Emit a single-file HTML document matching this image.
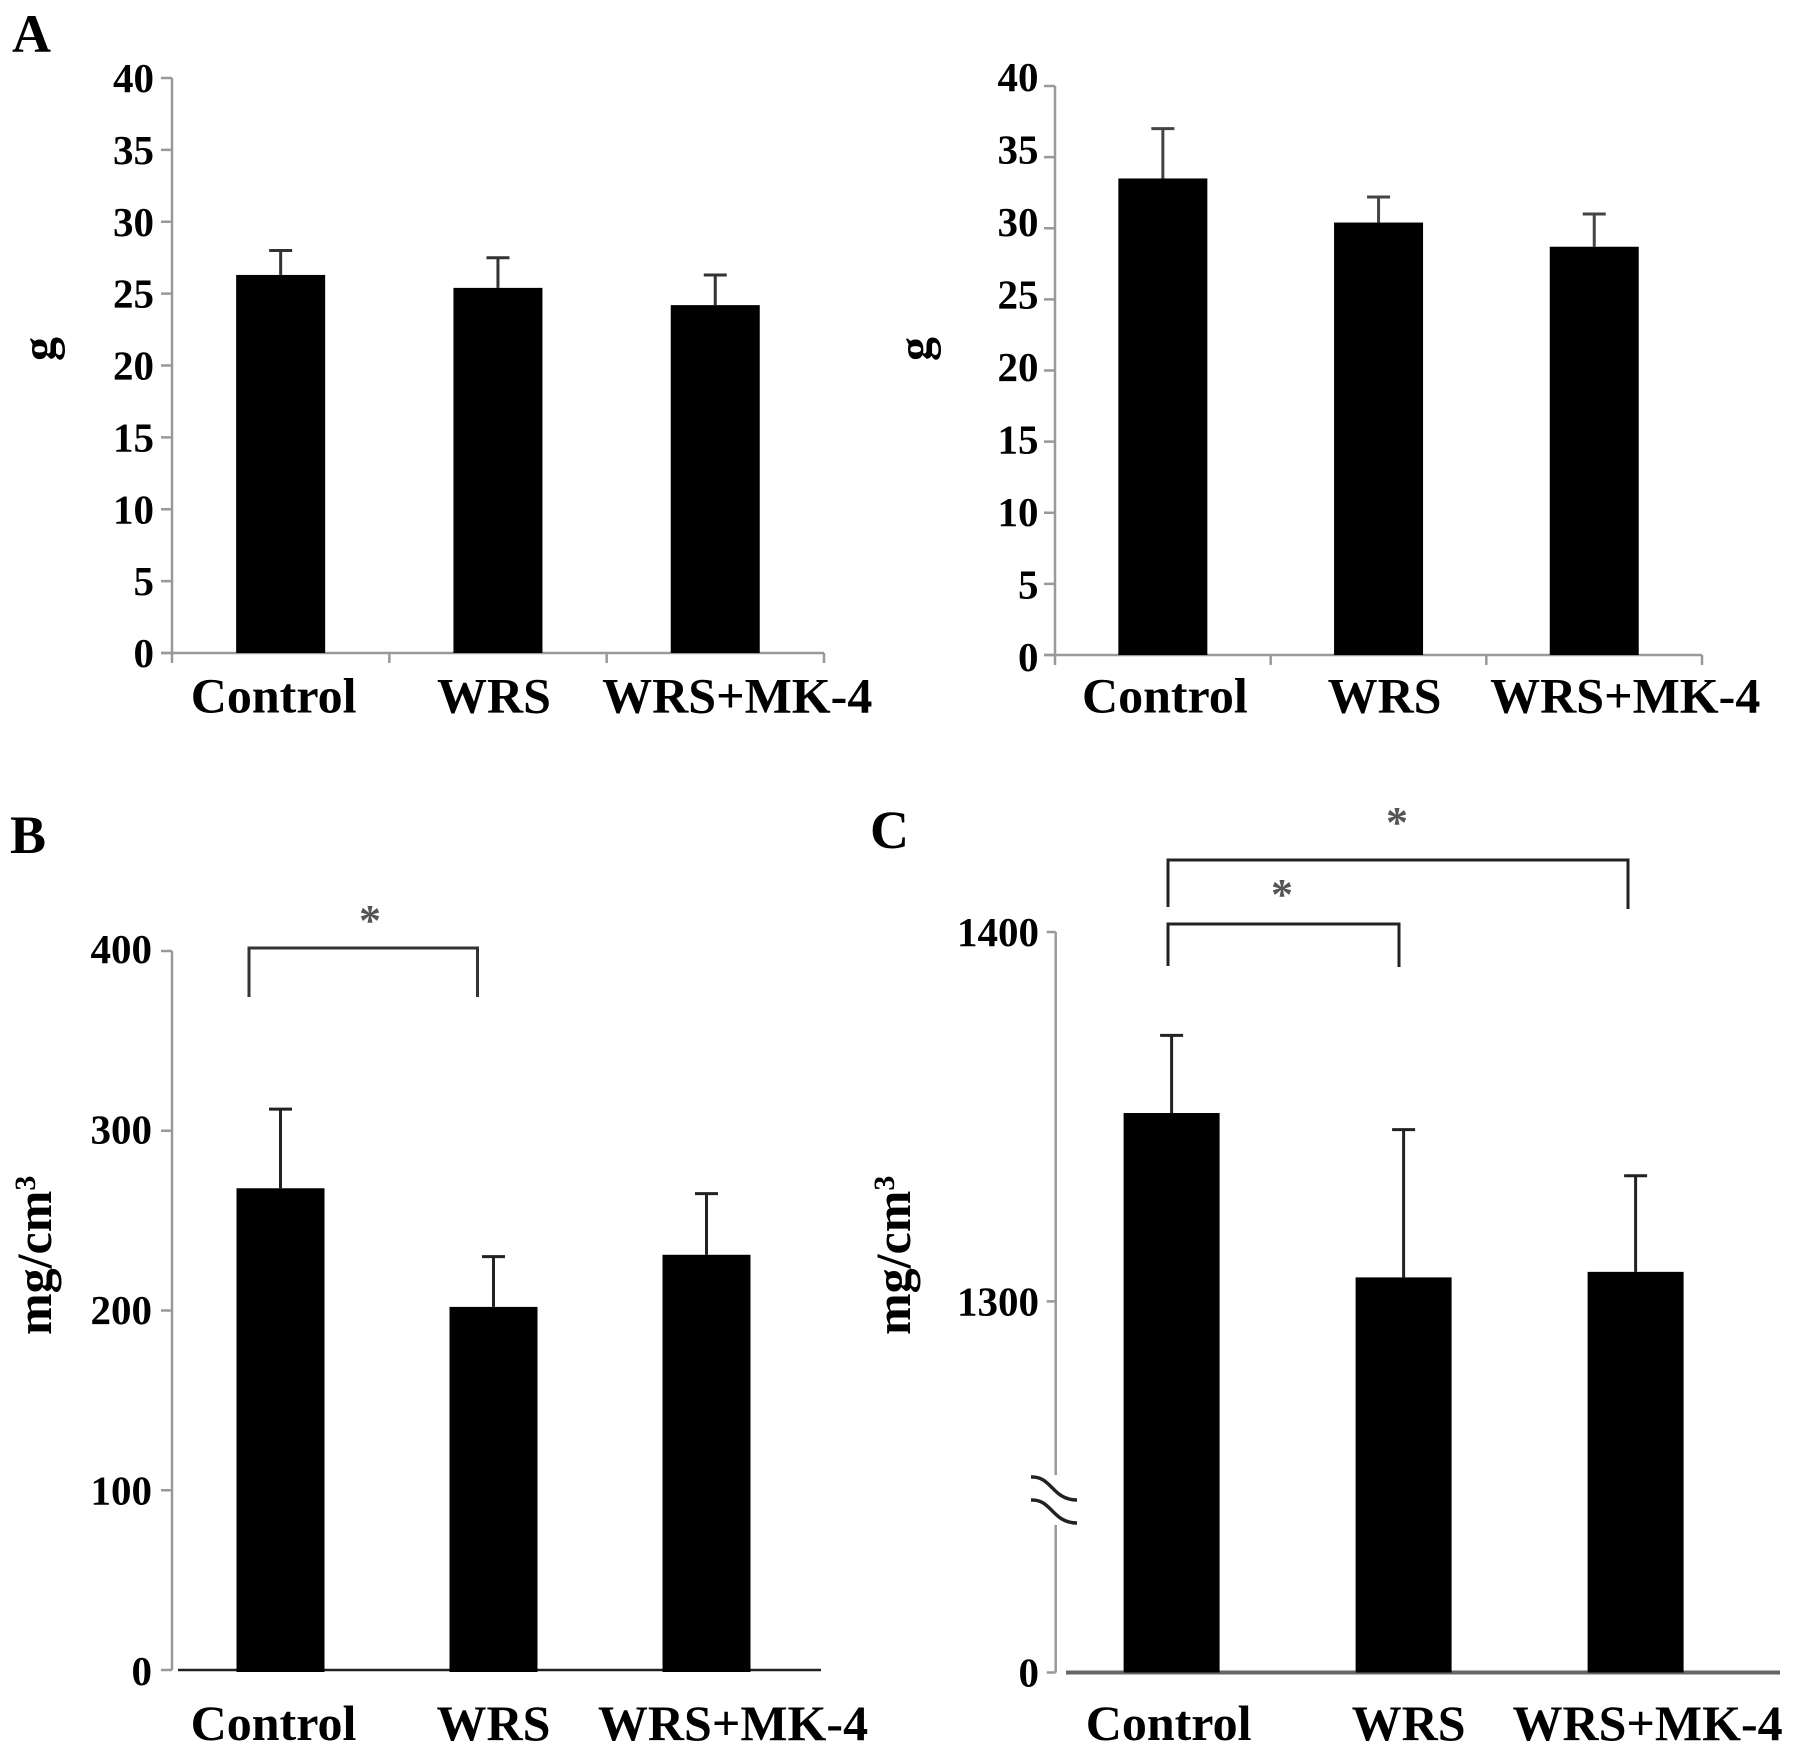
<!DOCTYPE html>
<html lang="en">
<head>
<meta charset="utf-8">
<title>Bar chart panels A, B and C</title>
<style>
html,body{margin:0;padding:0;background:#fff;}
svg{display:block;}
text{font-family:"Liberation Serif",serif;font-weight:bold;fill:#000;}
</style>
</head>
<body>
<svg id="figure" width="1795" height="1753" viewBox="0 0 1795 1753" xmlns="http://www.w3.org/2000/svg">
  <text x="12" y="52" font-size="54">A</text>
  <text x="10" y="853" font-size="54">B</text>
  <text x="870" y="848" font-size="54">C</text>

  <text transform="translate(55,349) rotate(-90)" text-anchor="middle" font-size="48">g</text>
  <text transform="translate(931,349) rotate(-90)" text-anchor="middle" font-size="48">g</text>
  <text transform="translate(51,1335) rotate(-90)" font-size="50">mg/cm<tspan dy="-16" font-size="30">3</tspan></text>
  <text transform="translate(910,1335) rotate(-90)" font-size="50">mg/cm<tspan dy="-16" font-size="30">3</tspan></text>

  <path d="M249 997V948H477.5V997" fill="none" stroke="#333" stroke-width="3"/>
  <text x="370" y="935" text-anchor="middle" font-size="44" style="fill:#555">*</text>
  <path d="M1168 907V860H1628V909" fill="none" stroke="#222" stroke-width="3"/>
  <text x="1397" y="837" text-anchor="middle" font-size="44" style="fill:#555">*</text>
  <path d="M1168 966V924H1399V967" fill="none" stroke="#222" stroke-width="3"/>
  <text x="1282" y="909" text-anchor="middle" font-size="44" style="fill:#555">*</text>
</svg>
<script>
const categories = ['Control', 'WRS', 'WRS+MK-4'];

const massTicks = [0, 5, 10, 15, 20, 25, 30, 35, 40];
const densityTicksB = [0, 100, 200, 300, 400];
const densityTicksC = [0, 1300, 1400];

const panelA1Values = [26.3, 25.4, 24.2];
const panelA1Errors = [1.7, 2.1, 2.1];

const panelA2Values = [33.5, 30.4, 28.7];
const panelA2Errors = [3.5, 1.8, 2.3];

const panelBValues = [268, 202, 231];
const panelBErrors = [44, 28, 34];

const panelCValues = [1351, 1306.5, 1308];
const panelCErrors = [21, 40, 26];

const svgNS = 'http://www.w3.org/2000/svg';
const figure = document.getElementById('figure');

function linearY(max, y0, yMax) {
  return function (v) { return y0 - (v / max) * (y0 - yMax); };
}

function brokenY(y0, y1300, y1400) {
  return function (v) {
    if (v >= 1300) return y1300 - (v - 1300) / 100 * (y1300 - y1400);
    return y0 - (v / 1300) * (y0 - y1300);
  };
}

function addLine(name, x1, y1, x2, y2, color, width) {
  const el = document.createElementNS(svgNS, 'line');
  
  
  el.setAttribute('x1', x1);
  el.setAttribute('y1', y1);
  el.setAttribute('x2', x2);
  el.setAttribute('y2', y2);
  el.setAttribute('stroke', color);
  el.setAttribute('stroke-width', width);
  figure.appendChild(el);
}

function addText(name, x, y, anchor, size, content) {
  const el = document.createElementNS(svgNS, 'text');
  
  
  el.setAttribute('x', x);
  el.setAttribute('y', y);
  el.setAttribute('text-anchor', anchor);
  el.setAttribute('font-size', size);
  el.textContent = content;
  figure.appendChild(el);
}

function addBar(name, x, y, w, h) {
  const el = document.createElementNS(svgNS, 'rect');
  
  
  el.setAttribute('x', x);
  el.setAttribute('y', y);
  el.setAttribute('width', w);
  el.setAttribute('height', h);
  el.setAttribute('fill', '#000');
  figure.appendChild(el);
}

function drawPanel(p, values, errors, ticks) {
  const xCentre = function (i) { return p.bandStart + (i + 0.5) * p.bandStep; };
  const labelScale = p.tickLabelScale || p.yScale;

  // y axis
  if (p.breakGap) {
    addLine(p.id + '-y-axis-upper', p.axisX, p.yScale(ticks[ticks.length - 1]), p.axisX, p.breakGap[0], p.axisColor, 2.5);
    addLine(p.id + '-y-axis-lower', p.axisX, p.breakGap[1], p.axisX, p.y0, p.axisColor, 2.5);
  } else {
    addLine(p.id + '-y-axis', p.axisX, p.yScale(ticks[ticks.length - 1]), p.axisX, p.y0 + p.axisDrop, p.axisColor, 2.5);
  }

  // y ticks and labels
  ticks.forEach(function (t) {
    const y = p.yScale(t);
    addLine(p.id + '-y-tick-' + t, p.axisX - p.tickLen, y, p.axisX, y, p.axisColor, 2.5);
    addText(p.id + '-y-tick-label-' + t, p.labelRight, labelScale(t) + 14, 'end', 41, String(t));
  });

  // x axis
  addLine(p.id + '-x-axis', p.xAxisStart, p.y0, p.xAxisEnd, p.y0, p.xAxisColor, p.xAxisWidth);
  if (p.xTicks) {
    categories.forEach(function (c, i) {
      const x = p.axisX + (i + 1) * (p.xAxisEnd - p.axisX) / 3;
      addLine(p.id + '-x-tick-' + i, x, p.y0, x, p.y0 + 10, p.axisColor, 2.5);
    });
  }

  // bars and error bars
  categories.forEach(function (c, i) {
    const cx = xCentre(i);
    const top = p.yScale(values[i]);
    const errTop = p.yScale(values[i] + errors[i]);
    addLine(p.id + '-error-stem-' + i, cx, errTop, cx, top, p.errColor, 3);
    addLine(p.id + '-error-cap-' + i, cx - 11.5, errTop, cx + 11.5, errTop, p.errColor, 3);
    addBar(p.id + '-bar-' + i, cx - p.barWidth / 2, top, p.barWidth, p.y0 + p.barDrop - top);
    addText(p.id + '-category-label-' + i, cx + p.labelOffsets[i], p.labelBaseline, 'middle', 50, c);
  });
}

drawPanel({
  id: 'panel-a-left', axisX: 172, y0: 653, yScale: linearY(40, 653, 78), axisDrop: 10, tickLen: 11,
  labelRight: 154, axisColor: '#999', xAxisStart: 161, xAxisEnd: 824, xAxisColor: '#999', xAxisWidth: 2.5, xTicks: true,
  bandStart: 172, bandStep: 217.3, barWidth: 89, barDrop: 0, errColor: '#333',
  labelOffsets: [-7, -4, 22], labelBaseline: 712.5
}, panelA1Values, panelA1Errors, massTicks);

drawPanel({
  id: 'panel-a-right', axisX: 1055, y0: 655, yScale: linearY(40, 655, 86), tickLabelScale: linearY(40, 657, 77), axisDrop: 10, tickLen: 11,
  labelRight: 1038.5, axisColor: '#999', xAxisStart: 1044, xAxisEnd: 1702, xAxisColor: '#999', xAxisWidth: 2.5, xTicks: true,
  bandStart: 1055, bandStep: 215.7, barWidth: 89, barDrop: 0, errColor: '#444',
  labelOffsets: [2, 6, 31], labelBaseline: 712.5
}, panelA2Values, panelA2Errors, massTicks);

drawPanel({
  id: 'panel-b', axisX: 172, y0: 1670, yScale: linearY(400, 1670, 951), tickLabelScale: linearY(400, 1671, 949), axisDrop: 0, tickLen: 11,
  labelRight: 152, axisColor: '#999', xAxisStart: 178, xAxisEnd: 821, xAxisColor: '#222', xAxisWidth: 2.5, xTicks: false,
  bandStart: 174, bandStep: 213, barWidth: 88, barDrop: 2, errColor: '#222',
  labelOffsets: [-7, 0, 26.5], labelBaseline: 1740
}, panelBValues, panelBErrors, densityTicksB);

drawPanel({
  id: 'panel-c', axisX: 1055.7, y0: 1672.5, yScale: brokenY(1672.5, 1301.4, 932), axisDrop: 0, tickLen: 9,
  labelRight: 1039, axisColor: '#999', xAxisStart: 1066, xAxisEnd: 1780, xAxisColor: '#666', xAxisWidth: 4, xTicks: false,
  breakGap: [1475, 1525],
  bandStart: 1055.6, bandStep: 232, barWidth: 96, barDrop: 0, errColor: '#222',
  labelOffsets: [-3, 5, 12], labelBaseline: 1740
}, panelCValues, panelCErrors, densityTicksC);

// axis-break marks on panel C
['M1031 1477C1052 1476 1052 1500 1077 1500', 'M1031 1500C1052 1499 1052 1523 1077 1523'].forEach(function (d) {
  const el = document.createElementNS(svgNS, 'path');
  
  
  el.setAttribute('d', d);
  el.setAttribute('fill', 'none');
  el.setAttribute('stroke', '#222');
  el.setAttribute('stroke-width', '3.5');
  figure.appendChild(el);
});
</script>
</body>
</html>
